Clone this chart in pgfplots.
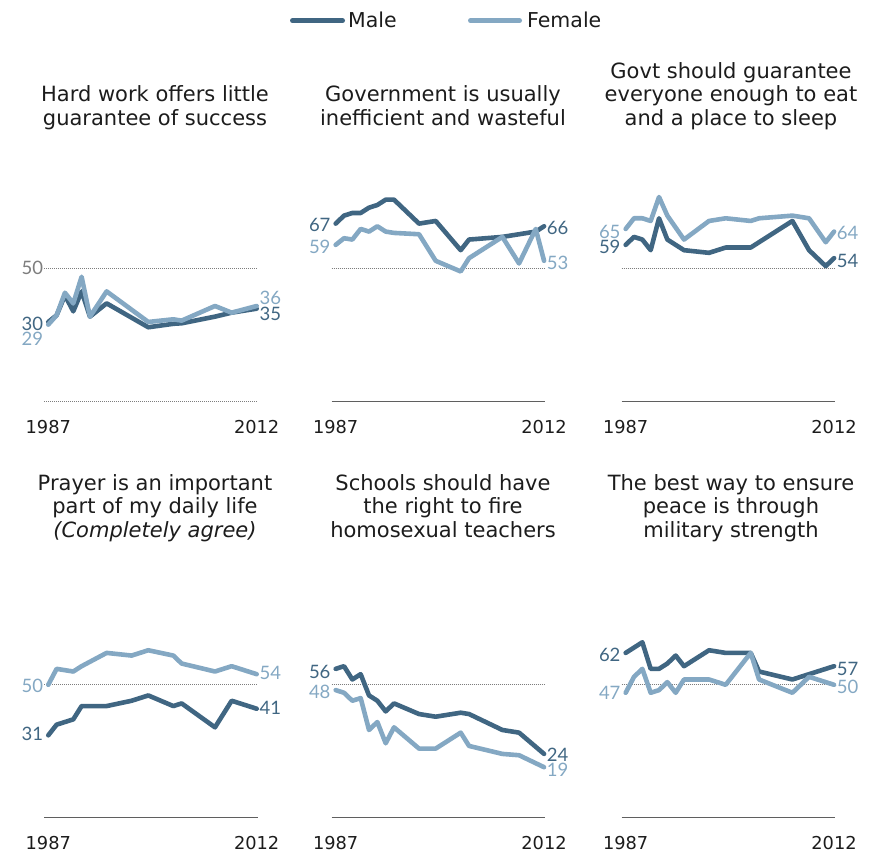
\documentclass[border=0pt]{standalone}
\usepackage{fontspec}
\setmainfont{DejaVu Sans}
\newfontfamily\numfont{Lato}
\usepackage{pgfplots}
\usepackage{pgfplotstable}
\pgfplotsset{compat=1.18}
\definecolor{male}{RGB}{64,102,130}
\definecolor{female}{RGB}{132,168,195}
\definecolor{txt}{RGB}{28,28,28}
\definecolor{refgray}{RGB}{125,125,125}
\definecolor{basegray}{RGB}{95,95,95}

\pgfplotstableread{
year male female
1987 30 29
1988 32.5 32.5
1989 40 41
1990 34 37
1991 41.5 47
1992 32 32
1994 37 41.5
1999 28 30
2002 29.3 31
2003 29.5 30.5
2007 32 36
2009 33.5 33.5
2012 35 36
}\hardwork

\pgfplotstableread{
year male female
1987 67 59
1988 70 61.5
1989 71 61
1990 71 65
1991 73 64
1992 74 66
1993 76 64
1994 76 63.5
1997 67 63
1999 68 53
2002 57 49
2003 61 54
2007 62 62
2009 63 52
2011 64 65
2012 66 53
}\govwaste

\pgfplotstableread{
year male female
1987 59 65
1988 62 69
1989 61 69
1990 57 68
1991 69 77
1992 61 70
1994 57 61
1997 56 68
1999 58 69
2002 58 68
2003 60 69
2007 68 70
2009 57 69
2011 51 60
2012 54 64
}\govfood

\pgfplotstableread{
year male female
1987 31 50
1988 35 56
1990 37 55
1991 42 57
1994 42 62
1997 44 61
1999 46 63
2002 42 61
2003 43 58
2007 34 55
2009 44 57
2012 41 54
}\prayer

\pgfplotstableread{
year male female
1987 56 48
1988 57 47
1989 52 44
1990 54 45
1991 46 33
1992 44 36
1993 40 28
1994 43 34
1997 39 26
1999 38 26
2002 39.5 32
2003 39 27
2007 33 24
2009 32 23.5
2012 24 19
}\schools

\pgfplotstableread{
year male female
1987 62 47
1988 64 53
1989 66 56
1990 56 47
1991 56 48
1992 58 51
1993 61 47
1994 57 52
1997 63 52
1999 62 50
2002 62 62
2003 55 52
2007 52 47
2009 54 53
2012 57 50
}\military

\pgfplotsset{
  panel/.style={
    scale only axis, width=213.4pt, height=265.8pt,
    xmin=1986.5, xmax=2012.1, ymin=0, ymax=100,
    axis line style={draw=none}, ytick=\empty,
    xtick={1987,2012}, major tick length=0pt,
    xticklabel style={font=\fontsize{17.8}{17.8}\selectfont, text=txt, anchor=base, yshift=-31.6pt, inner sep=0pt},
    /pgf/number format/assume math mode=true,
    /pgf/number format/1000 sep={},
    clip=false, anchor=south west,
  },
  mline/.style={male, line width=4.6pt, line join=round, line cap=round},
  fline/.style={female, line width=4.6pt, line join=round, line cap=round},
}
\tikzset{
  lbl/.style={font=\numfont\fontsize{18.5}{18.5}\selectfont, inner sep=0pt},
  sl/.style={lbl, anchor=east, xshift=-5pt},
  el/.style={lbl, anchor=west, xshift=2.7pt},
  ref50/.style={refgray, line width=0.8pt, dash pattern=on 1pt off 1pt},
  base/.style={basegray, line width=1.2pt},
  ttl/.style={font=\fontsize{21}{23.8}\selectfont, text=txt, anchor=base, inner sep=0pt},
}
\newcommand{\ttext}[1]{\begin{tabular}[b]{@{}c@{}}#1\end{tabular}}

\begin{document}
\begin{tikzpicture}
\useasboundingbox (0pt,0pt) rectangle (870pt,852pt);

% legend
\draw[male, line width=5pt, line cap=round] (292.5pt,831.3pt) -- (342.5pt,831.3pt);
\node[font=\fontsize{20.5}{20.5}\selectfont, text=txt, anchor=base west, inner sep=0pt] at (348pt,824.7pt) {Male};
\draw[female, line width=5pt, line cap=round] (470.5pt,831.3pt) -- (519.5pt,831.3pt);
\node[font=\fontsize{20.5}{20.5}\selectfont, text=txt, anchor=base west, inner sep=0pt] at (527pt,824.7pt) {Female};

% titles
\node[ttl] at (155pt,726.3pt) {\ttext{Hard work offers little\\guarantee of success}};
\node[ttl] at (443pt,726.3pt) {\ttext{Government is usually\\inefficient and wasteful}};
\node[ttl] at (731pt,726.3pt) {\ttext{Govt should guarantee\\everyone enough to eat\\and a place to sleep}};
\node[ttl] at (155pt,314.3pt) {\ttext{Prayer is an important\\part of my daily life\\\textit{(Completely agree)}}};
\node[ttl] at (443pt,314.3pt) {\ttext{Schools should have\\the right to fire\\homosexual teachers}};
\node[ttl] at (731pt,314.3pt) {\ttext{The best way to ensure\\peace is through\\military strength}};

% panel 1
\begin{axis}[panel, at={(44.1pt,450.3pt)}]
\draw[ref50] (axis cs:1986.5,50) -- (axis cs:2012.1,50);
\draw[ref50] (axis cs:1986.5,0) -- (axis cs:2012.1,0);
\addplot[mline] table[x=year,y=male]{\hardwork};
\addplot[fline] table[x=year,y=female]{\hardwork};
\node[sl, text=refgray] at (axis cs:1987,50.3) {50};
\node[sl, text=male] at (axis cs:1987,29.1) {30};
\node[sl, text=female] at (axis cs:1987,23.5) {29};
\node[el, text=female] at (axis cs:2012,38.9) {36};
\node[el, text=male] at (axis cs:2012,33.0) {35};
\end{axis}

% panel 2
\begin{axis}[panel, at={(331.5pt,450.3pt)}]
\draw[ref50] (axis cs:1986.5,50) -- (axis cs:2012.1,50);
\draw[base] (axis cs:1986.5,0) -- (axis cs:2012.1,0);
\addplot[mline] table[x=year,y=male]{\govwaste};
\addplot[fline] table[x=year,y=female]{\govwaste};
\node[sl, text=male] at (axis cs:1987,66.4) {67};
\node[sl, text=female] at (axis cs:1987,58.3) {59};
\node[el, text=male] at (axis cs:2012,65.2) {66};
\node[el, text=female] at (axis cs:2012,52.1) {53};
\end{axis}

% panel 3
\begin{axis}[panel, at={(621.5pt,450.3pt)}]
\draw[ref50] (axis cs:1986.5,50) -- (axis cs:2012.1,50);
\draw[base] (axis cs:1986.5,0) -- (axis cs:2012.1,0);
\addplot[mline] table[x=year,y=male]{\govfood};
\addplot[fline] table[x=year,y=female]{\govfood};
\node[sl, text=female] at (axis cs:1987,64.0) {65};
\node[sl, text=male] at (axis cs:1987,58.3) {59};
\node[el, text=female] at (axis cs:2012,63.6) {64};
\node[el, text=male] at (axis cs:2012,53.0) {54};
\end{axis}

% panel 4
\begin{axis}[panel, at={(44.1pt,34.3pt)}]
\draw[ref50] (axis cs:1986.5,50) -- (axis cs:2012.1,50);
\draw[base] (axis cs:1986.5,0) -- (axis cs:2012.1,0);
\addplot[mline] table[x=year,y=male]{\prayer};
\addplot[fline] table[x=year,y=female]{\prayer};
\node[sl, text=female] at (axis cs:1987,49.5) {50};
\node[sl, text=male] at (axis cs:1987,31.4) {31};
\node[el, text=female] at (axis cs:2012,54.3) {54};
\node[el, text=male] at (axis cs:2012,41.2) {41};
\end{axis}

% panel 5
\begin{axis}[panel, at={(331.5pt,34.3pt)}]
\draw[ref50] (axis cs:1986.5,50) -- (axis cs:2012.1,50);
\draw[base] (axis cs:1986.5,0) -- (axis cs:2012.1,0);
\addplot[mline] table[x=year,y=male]{\schools};
\addplot[fline] table[x=year,y=female]{\schools};
\node[sl, text=male] at (axis cs:1987,54.9) {56};
\node[sl, text=female] at (axis cs:1987,47.4) {48};
\node[el, text=male] at (axis cs:2012,23.6) {24};
\node[el, text=female] at (axis cs:2012,17.9) {19};
\end{axis}

% panel 6
\begin{axis}[panel, at={(621.5pt,34.3pt)}]
\draw[ref50] (axis cs:1986.5,50) -- (axis cs:2012.1,50);
\draw[base] (axis cs:1986.5,0) -- (axis cs:2012.1,0);
\addplot[mline] table[x=year,y=male]{\military};
\addplot[fline] table[x=year,y=female]{\military};
\node[sl, text=male] at (axis cs:1987,61.2) {62};
\node[sl, text=female] at (axis cs:1987,46.8) {47};
\node[el, text=male] at (axis cs:2012,55.8) {57};
\node[el, text=female] at (axis cs:2012,49.3) {50};
\end{axis}
\end{tikzpicture}
\end{document}
